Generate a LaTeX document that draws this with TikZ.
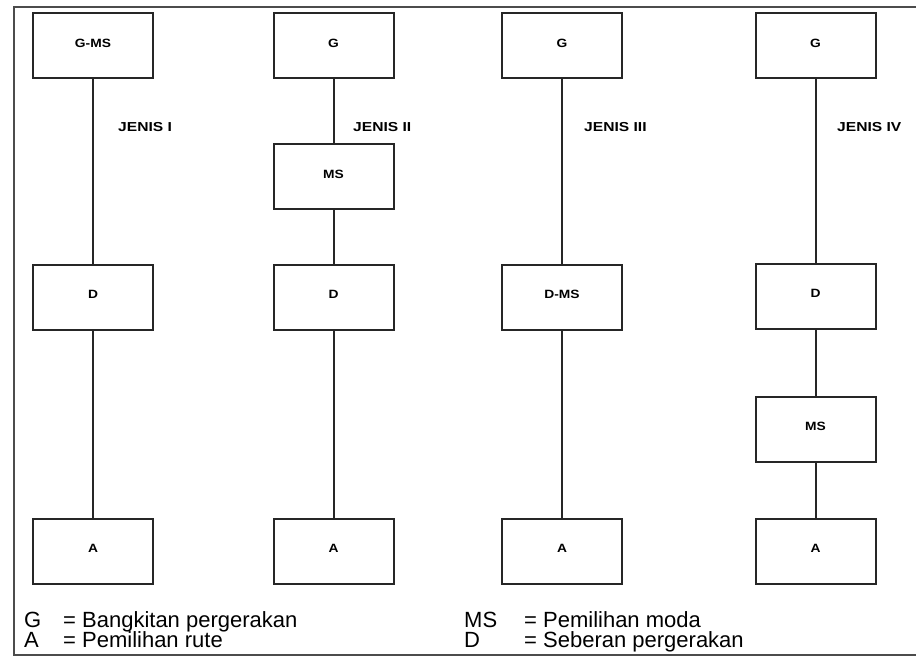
\documentclass[tikz,border=0pt]{standalone}
\usepackage{fontspec}
\setmainfont{Liberation Sans}
\begin{document}
\begin{tikzpicture}[x=1pt,y=-1pt,
  stagebox/.style={draw=black!85, line width=2pt, minimum width=120pt, minimum height=65pt, inner sep=0pt, text depth=5pt, font=\fontsize{12}{14}\selectfont\bfseries\addfontfeature{FakeStretch=1.15}},
  link/.style={draw=black!85, line width=2pt},
  jenis/.style={anchor=west, inner sep=0pt, font=\fontsize{13}{14}\selectfont\bfseries\addfontfeature{FakeStretch=1.2}},
  legend/.style={anchor=base west, inner sep=0pt, font=\fontsize{22}{24}\selectfont},
  frame/.style={draw=black!70, line width=2pt}]
\useasboundingbox (0,0) rectangle (916,658);
% frame
\coordinate (f1) at (916,7);
\coordinate (f2) at (14,7);
\coordinate (f3) at (14,655);
\coordinate (f4) at (916,655);
\draw[frame] (f1) -- (f2) -- (f3) -- (f4);
% column 1
\node[stagebox] (g1) at (93,45.5) {G-MS};
\node[stagebox] (d1) at (93,297) {D};
\node[stagebox] (a1) at (93,551) {A};
\draw[link] (g1) -- (d1);
\draw[link] (d1) -- (a1);
\node[jenis] (j1) at (118,127) {JENIS I};
% column 2
\node[stagebox] (g2) at (333.5,45.5) {G};
\node[stagebox] (m2) at (333.5,176.5) {MS};
\node[stagebox] (d2) at (333.5,297) {D};
\node[stagebox] (a2) at (333.5,551) {A};
\draw[link] (g2) -- (m2);
\draw[link] (m2) -- (d2);
\draw[link] (d2) -- (a2);
\node[jenis] (j2) at (353,127) {JENIS II};
% column 3
\node[stagebox] (g3) at (562,45.5) {G};
\node[stagebox] (d3) at (562,297) {D-MS};
\node[stagebox] (a3) at (562,551) {A};
\draw[link] (g3) -- (d3);
\draw[link] (d3) -- (a3);
\node[jenis] (j3) at (584,127) {JENIS III};
% column 4
\node[stagebox] (g4) at (815.5,45.5) {G};
\node[stagebox] (d4) at (815.5,296) {D};
\node[stagebox] (m4) at (815.5,429) {MS};
\node[stagebox] (a4) at (815.5,551) {A};
\draw[link] (g4) -- (d4);
\draw[link] (d4) -- (m4);
\draw[link] (m4) -- (a4);
\node[jenis] (j4) at (837,127) {JENIS IV};
% legend
\node[legend] (lg) at (24,627) {G};
\node[legend] (lgt) at (63,627) {= Bangkitan pergerakan};
\node[legend] (la) at (24,647) {A};
\node[legend] (lat) at (63,647) {= Pemilihan rute};
\node[legend] (lms) at (464,627) {MS};
\node[legend] (lmst) at (524,627) {= Pemilihan moda};
\node[legend] (ld) at (464,647) {D};
\node[legend] (ldt) at (524,647) {= Seberan pergerakan};
\end{tikzpicture}
\end{document}
